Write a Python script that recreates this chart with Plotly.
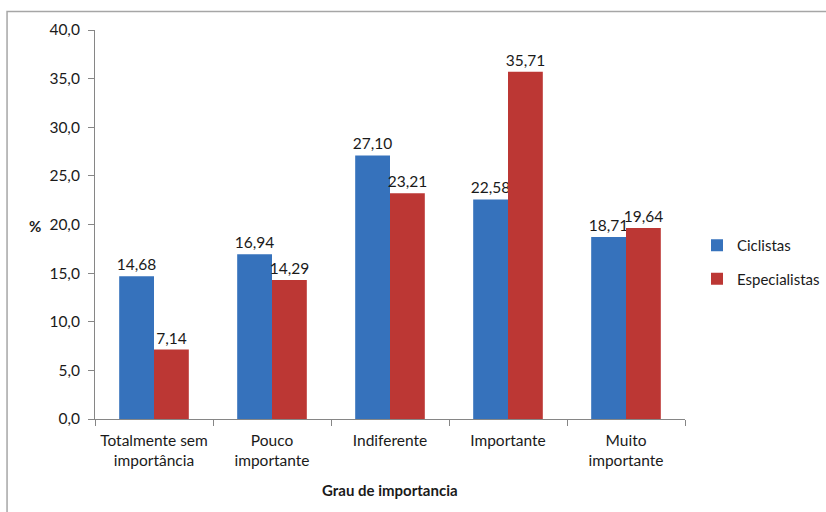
import plotly.graph_objects as go

categories = ["Totalmente sem<br>importância", "Pouco<br>importante", "Indiferente", "Importante", "Muito<br>importante"]
ciclistas = [14.68, 16.94, 27.10, 22.58, 18.71]
especialistas = [7.14, 14.29, 23.21, 35.71, 19.64]
y_ticks = [0, 5, 10, 15, 20, 25, 30, 35, 40]

FONT = "Lato"
W, H = 826, 512
ML, MR, MT, MB = 95, 134, 29.5, 93
PW = W - ML - MR
PH = H - MT - MB

def px_x(x):
    return (x - ML) / PW

def px_y(y):
    return (H - MB - y) / PH

fig = go.Figure()
fig.add_trace(go.Bar(
    x=categories, y=ciclistas, name="Ciclistas", legendgroup="a",
    marker=dict(color="#3672BC", line=dict(width=0)),
    texttemplate="%{y:.2f}", textposition="outside", cliponaxis=False,
    constraintext="none",
    textfont=dict(family=FONT, size=15.5, color="#1a1a1a"),
))
fig.add_trace(go.Bar(
    x=categories, y=especialistas, name="Especialistas", legendgroup="b",
    marker=dict(color="#BC3734", line=dict(width=0)),
    texttemplate="%{y:.2f}", textposition="outside", cliponaxis=False,
    constraintext="none",
    textfont=dict(family=FONT, size=15.5, color="#1a1a1a"),
))

fig.update_layout(
    width=W, height=H,
    margin=dict(l=ML, r=MR, t=MT, b=MB),
    paper_bgcolor="white", plot_bgcolor="white",
    separators=",.",
    barmode="group", bargap=0.41, bargroupgap=0,
    font=dict(family=FONT, size=15, color="#1a1a1a"),
    showlegend=True,
    legend=dict(xref="container", yref="container",
                x=697 / W, y=(H - 262) / H, xanchor="left", yanchor="middle",
                itemwidth=30,
                font=dict(family=FONT, size=15, color="#1a1a1a"),
                tracegroupgap=11, bgcolor="rgba(0,0,0,0)"),
    xaxis=dict(showline=True, linecolor="#868686", linewidth=1,
               ticks="outside", tickson="boundaries", ticklen=6, tickcolor="#868686",
               ticklabelstandoff=7,
               tickfont=dict(family=FONT, size=15.5, color="#1a1a1a"),
               showgrid=False, zeroline=False),
    yaxis=dict(range=[0, 40], tickvals=y_ticks, tickformat=".1f",
               showline=True, linecolor="#868686", linewidth=1,
               ticks="outside", ticklen=6, tickcolor="#868686",
               ticklabelstandoff=5,
               tickfont=dict(family=FONT, size=15.5, color="#1a1a1a"),
               showgrid=False, zeroline=False),
    shapes=[dict(type="rect", xref="paper", yref="paper",
                 x0=px_x(6), x1=px_x(W + 10), y0=px_y(H + 10), y1=px_y(11),
                 line=dict(color="#A6A6A6", width=1.5), fillcolor="rgba(0,0,0,0)", layer="below")],
    annotations=[
        dict(text="<b>%</b>", xref="paper", yref="paper", x=px_x(34), y=px_y(226),
             xanchor="center", yanchor="middle",
             showarrow=False, font=dict(family=FONT, size=15, color="#1a1a1a")),
        dict(text="<b>Grau de importancia</b>", xref="paper", yref="paper",
             x=px_x(393), y=px_y(490), xanchor="center", yanchor="middle",
             showarrow=False, font=dict(family=FONT, size=15, color="#1a1a1a")),
    ],
)

fig.write_html("out.html")
